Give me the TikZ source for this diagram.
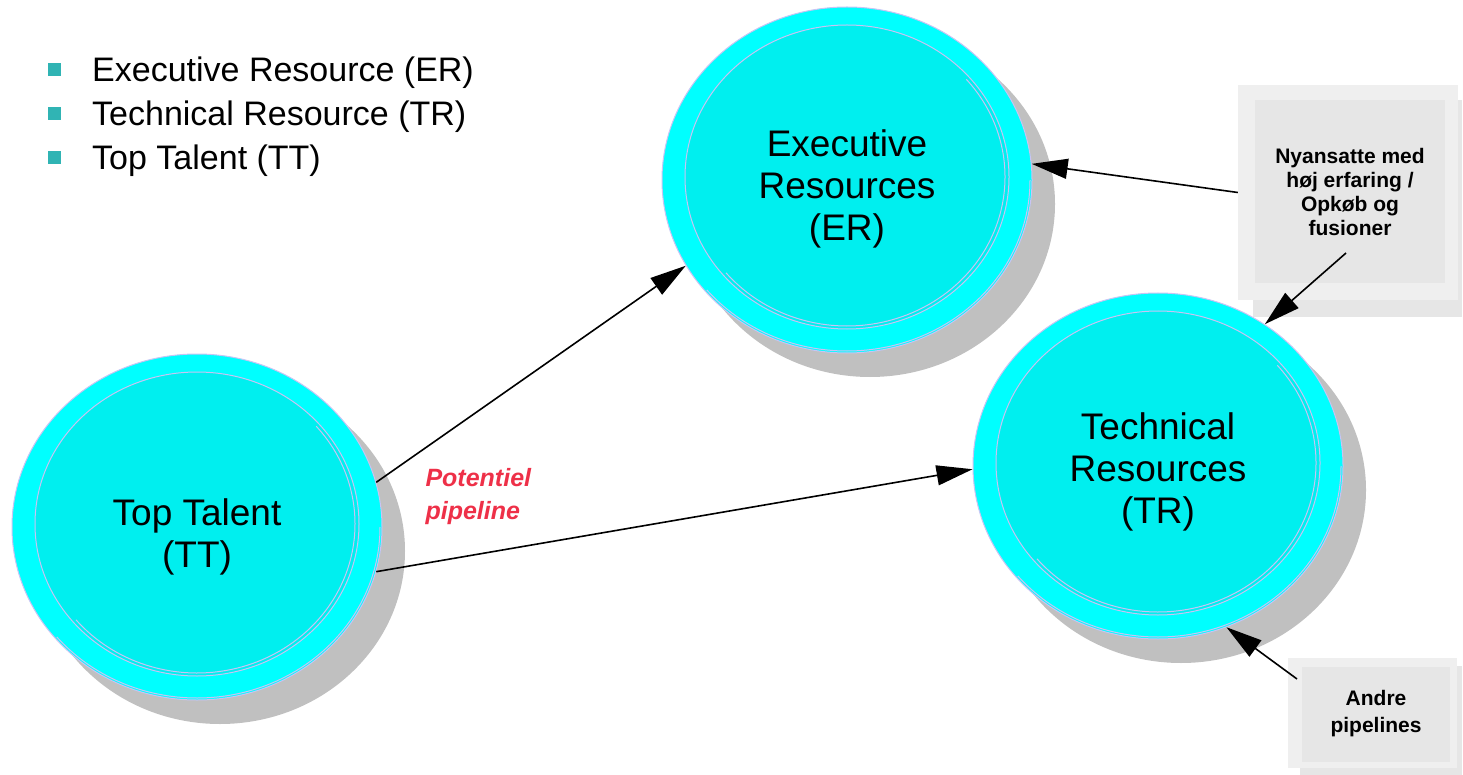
\documentclass[tikz,border=0pt]{standalone}
\usepackage{fontspec}
\setmainfont{Liberation Sans}
\usetikzlibrary{shapes.geometric,arrows.meta,positioning}

\definecolor{ringcyan}{HTML}{00FFFF}
\definecolor{corecyan}{HTML}{00EFEF}
\definecolor{ringedge}{HTML}{C8C4F4}
\definecolor{shadegray}{HTML}{C0C0C0}
\definecolor{boxlight}{HTML}{EFEFEF}
\definecolor{boxmid}{HTML}{E6E6E6}
\definecolor{bullteal}{HTML}{30B4B4}
\definecolor{pipered}{HTML}{EE3048}

\begin{document}
\begin{tikzpicture}[x=1pt,y=-1pt,
  ringshade/.style={ellipse,fill=shadegray,minimum width=370pt,minimum height=346pt,inner sep=0pt},
  ring/.style={ellipse,fill=ringcyan,draw=ringedge,line width=1pt,minimum width=370pt,minimum height=346pt,inner sep=0pt},
  core/.style={ellipse,fill=corecyan,draw=ringedge,line width=1pt,minimum width=324pt,minimum height=304pt,inner sep=0pt},
  ringtext/.style={align=center,font=\fontsize{37}{42}\selectfont},
  boxshade/.style={fill=boxmid,inner sep=0pt},
  boxface/.style={fill=boxlight,inner sep=0pt},
  boxcore/.style={fill=boxmid,inner sep=0pt,align=center,font=\fontsize{21}{24}\selectfont\bfseries},
  bulletmark/.style={fill=bullteal,minimum size=13pt,inner sep=0pt},
  bulletitem/.style={anchor=base west,inner sep=0pt,font=\fontsize{34}{40}\selectfont},
  link/.style={line width=1.6pt,-{Triangle[length=36pt,width=20pt]}}]

  \useasboundingbox (0,0) rectangle (1463,775);

  % bullet list
  \foreach \nm/\y/\txt in {er/70/Executive Resource (ER),tr/114/Technical Resource (TR),tt/158/Top Talent (TT)}{
    \node[bulletmark] (\nm Mark) at (54.5,\y) {};
    \node[bulletitem] (\nm Item) at (92,\y+12) {\txt};
  }

  % the three pools
  \foreach \nm/\cx/\cy in {tt/197/527,er/847/180,tr/1158/466}{
    \node[ringshade] (\nm Shade) at (\cx+23,\cy+24) {};
    \node[ring] (\nm) at (\cx,\cy) {};
    \draw[ringedge,line width=1pt] (\cx,\cy) ++(0:183 and 171) arc[start angle=0,end angle=140,x radius=183,y radius=171];
    \node[core] (\nm Core) at (\cx,\cy-3) {};
    \draw[ringedge,line width=1pt] (\cx,\cy-3) ++(-41:158 and 149) arc[start angle=-41,end angle=140,x radius=158,y radius=149];
  }
  \node[ringtext] (ttText) at (197,537) {Top Talent\\(TT)};
  \node[ringtext] (erText) at (847,189) {Executive\\Resources\\(ER)};
  \node[ringtext] (trText) at (1158,472) {Technical\\Resources\\(TR)};

  % boxes on the right
  \node[boxshade,minimum width=209pt,minimum height=217pt] (nyShade) at (1357.5,208.5) {};
  \node[boxface,minimum width=220pt,minimum height=215pt] (nyBox) at (1348,192.5) {};
  \node[boxcore,minimum width=190pt,minimum height=183pt] (nyText) at (1350,191.5) {Nyansatte med\\høj erfaring /\\Opkøb og\\fusioner};
  \node[boxshade,minimum width=162pt,minimum height=109pt] (andreShade) at (1381,720.5) {};
  \node[boxface,minimum width=169pt,minimum height=110pt] (andreBox) at (1372.5,713) {};
  \node[boxcore,minimum width=148pt,minimum height=95pt,font=\fontsize{21}{27}\selectfont\bfseries] (andreText) at (1376,714) {Andre\\pipelines};
  \coordinate (nyTail) at (1346,253);
  \coordinate (andreTail) at (1297,679);

  \node[align=left,anchor=west,text=pipered,font=\fontsize{25}{33}\selectfont\bfseries\itshape] (pipeNote) at (422,497) {Potentiel\\pipeline};

  % arrows
  \draw[link] (tt.14) -- (er.208);
  \draw[link] (tt.-14) -- (tr.181);
  \draw[link] (nyBox.west) -- (er.5);
  \draw[link] (nyTail) -- (tr.53);
  \draw[link] (andreTail) -- (tr.-67);
\end{tikzpicture}
\end{document}
